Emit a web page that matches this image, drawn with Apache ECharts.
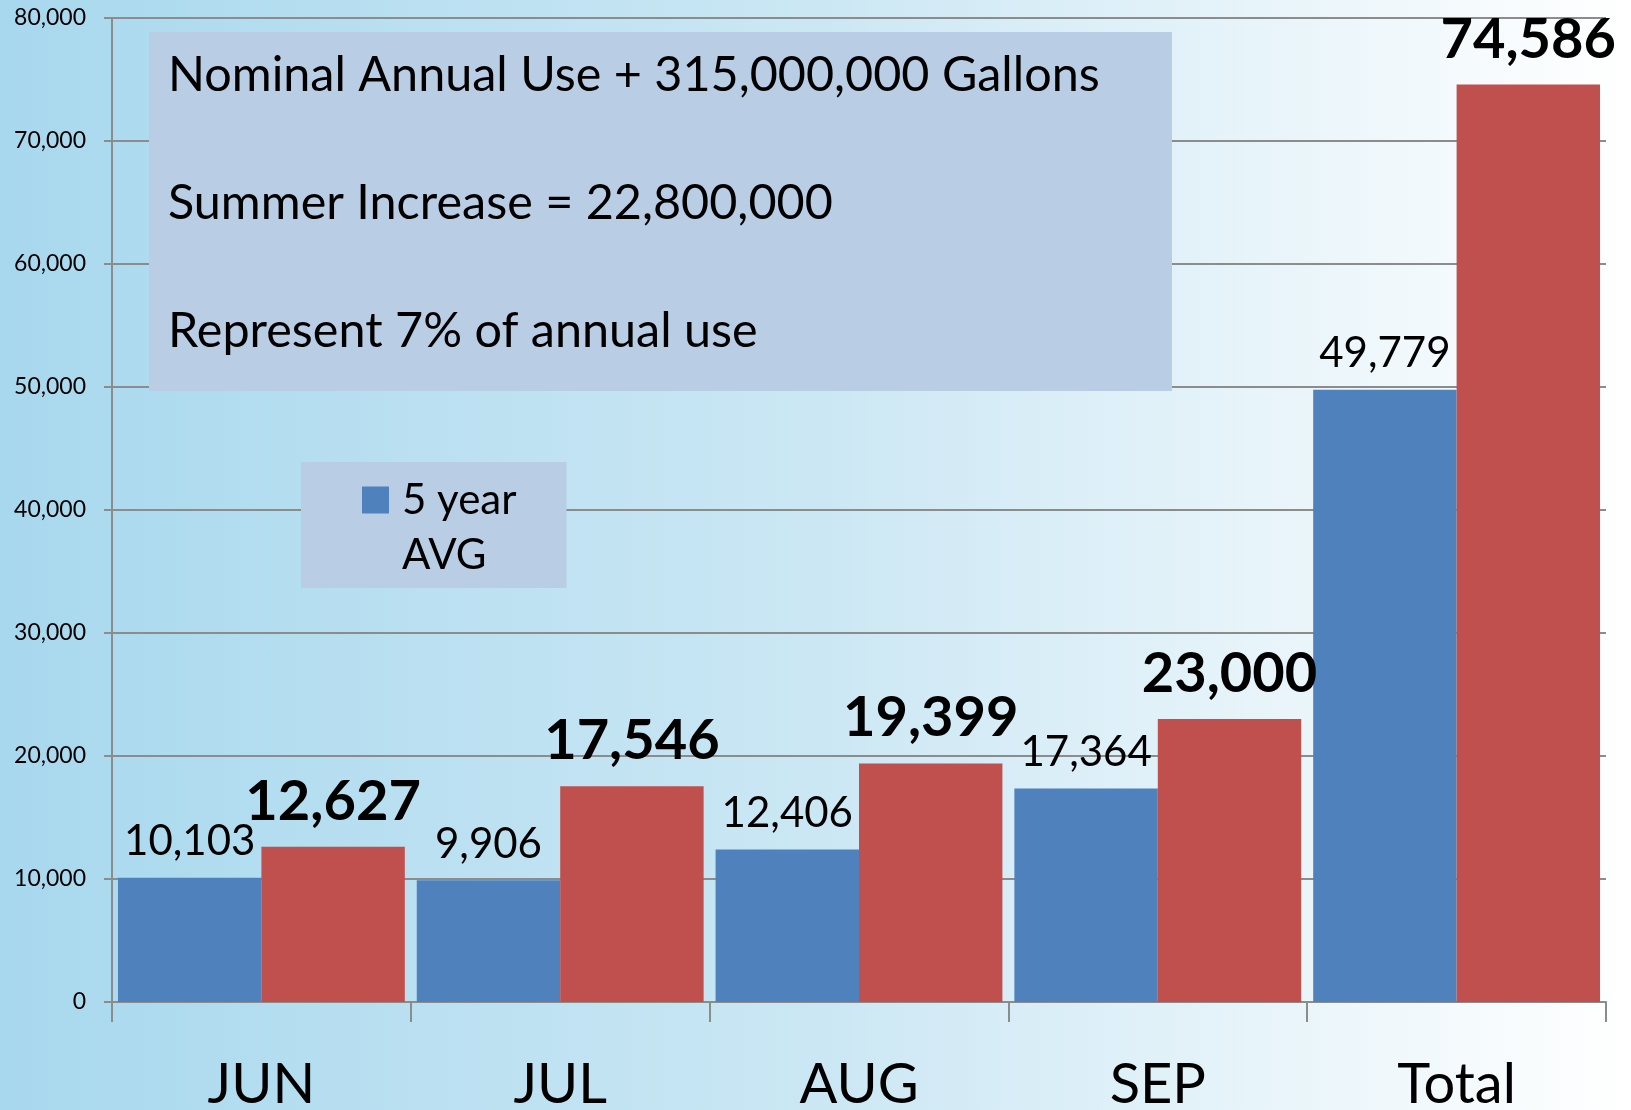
<!DOCTYPE html>
<html>
<head>
<meta charset="utf-8">
<script src="https://cdn.jsdelivr.net/npm/echarts@6/dist/echarts.min.js"></script>
<style>
  html, body { margin: 0; padding: 0; }
  #chart { width: 1631px; height: 1110px; }
</style>
</head>
<body>
<div id="chart"></div>
<script>
  // data
  var categories = ['JUN', 'JUL', 'AUG', 'SEP', 'Total'];
  var avgValues = [10103, 9906, 12406, 17364, 49779];
  var currentValues = [12627, 17546, 19399, 23000, 74586];
  var yTicks = { min: 0, max: 80000, interval: 10000 };
  var noteLines = [
    'Nominal Annual Use + 315,000,000 Gallons',
    'Summer Increase = 22,800,000',
    'Represent 7% of annual use'
  ];

  var FONT = 'Lato';
  var fmt = function (v) { return Number(v).toLocaleString('en-US'); };

  var myChart = echarts.init(document.getElementById('chart'));
  var option = {
    backgroundColor: {
      type: 'linear', x: 0, y: 0, x2: 1, y2: 0,
      colorStops: [
        { offset: 0, color: '#A8D8EE' },
        { offset: 0.5, color: '#CBE7F4' },
        { offset: 1, color: '#FFFFFF' }
      ]
    },
    textStyle: { fontFamily: FONT },
    animation: false,
    grid: {
      left: 112, right: 25, top: 18, bottom: 108,
      containLabel: false,
      outerBoundsMode: 'none'
    },
    legend: {
      left: 301,
      top: 462,
      orient: 'vertical',
      backgroundColor: '#B9CDE5',
      padding: [17, 50, 67, 61],
      itemWidth: 27,
      itemHeight: 27,
      icon: 'rect',
      data: ['5 year AVG'],
      formatter: function () { return '5 year'; },
      textStyle: { fontSize: 42, color: '#000', fontFamily: FONT, padding: [0, 0, 0, 8] }
    },
    xAxis: {
      type: 'category',
      data: categories,
      axisLine: { lineStyle: { color: '#8C8C8C', width: 2 } },
      axisTick: { show: true, length: 20, lineStyle: { color: '#8C8C8C', width: 2 } },
      axisLabel: { fontSize: 56, color: '#000', margin: 55, fontFamily: FONT }
    },
    yAxis: {
      type: 'value',
      min: yTicks.min,
      max: yTicks.max,
      interval: yTicks.interval,
      axisLine: { show: true, lineStyle: { color: '#8C8C8C', width: 2 } },
      axisTick: { show: true, length: 8, lineStyle: { color: '#8C8C8C', width: 2 } },
      splitLine: { lineStyle: { color: '#8C8C8C', width: 2 } },
      axisLabel: {
        fontSize: 23, color: '#000', margin: 26, fontFamily: FONT,
        formatter: fmt
      }
    },
    series: [
      {
        name: '5 year AVG',
        type: 'bar',
        data: avgValues,
        barGap: '0%',
        barCategoryGap: '4%',
        itemStyle: { color: '#4F81BD' },
        label: {
          show: true, position: 'top', distance: 15,
          fontSize: 42, color: '#000', fontFamily: FONT,
          formatter: function (p) { return fmt(p.value); }
        }
      },
      {
        name: 'Current',
        type: 'bar',
        data: currentValues,
        itemStyle: { color: '#C0504D' },
        label: {
          show: true, position: 'top', distance: 17,
          fontSize: 56, fontWeight: 'bold', color: '#000', fontFamily: FONT,
          formatter: function (p) { return fmt(p.value); }
        }
      }
    ],
    graphic: [
      {
        type: 'rect',
        left: 149, top: 32,
        shape: { width: 1023, height: 359 },
        style: { fill: '#B9CDE5' },
        z: 10
      },
      {
        type: 'text',
        left: 168, top: 43,
        z: 11,
        style: {
          text: noteLines.join('\n\n'),
          font: '48.5px ' + FONT,
          lineHeight: 64,
          fill: '#000'
        }
      },
      {
        type: 'text',
        left: 402, top: 534,
        z: 11,
        style: { text: 'AVG', font: '42px ' + FONT, fill: '#000' }
      }
    ]
  };
  myChart.setOption(option, true);
</script>
</body>
</html>
